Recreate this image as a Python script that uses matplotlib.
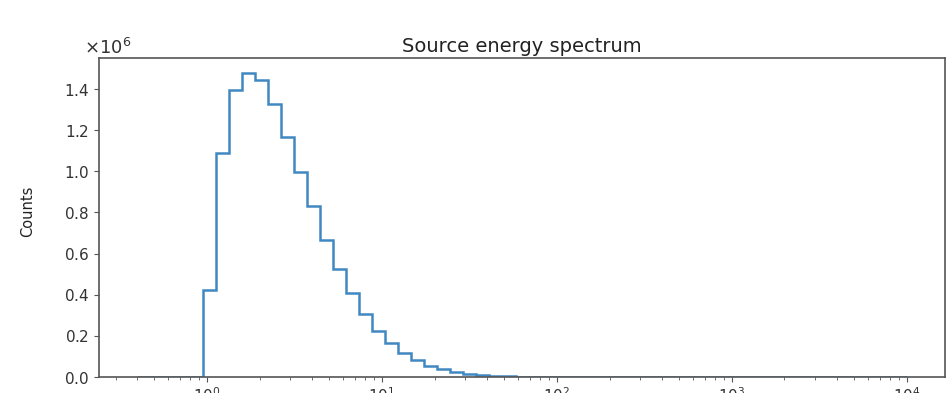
import numpy as np
from matplotlib import pyplot as plt

### log spaced energy bins, 59 bins from 0.4 to 1e4
bin_edges = np.logspace(np.log10(0.4), 4, 60)

### counts per bin (in units of 1e6)
counts_M = [0, 0, 0, 0, 0,
            0.423, 1.091, 1.393, 1.478, 1.442, 1.327, 1.166, 0.999, 0.829, 0.667,
            0.524, 0.407, 0.307, 0.225, 0.164, 0.115, 0.083, 0.054, 0.037, 0.024,
            0.015, 0.009, 0.005, 0.003, 0.002, 0.001]
counts_M = counts_M + [0] * (len(bin_edges) - 1 - len(counts_M))
counts = np.array(counts_M) * 1e6

fig = plt.figure(figsize=(9.48, 3.93), dpi=100)
ax = fig.add_axes([0.1044, 0.0407, 0.8926, 0.8123])

ax.stairs(counts, bin_edges, color='#2b7bba', linewidth=1.8, alpha=0.9)
ax.set_xscale('log')
ax.margins(x=0.05, y=0.05)
ax.set_ylim(0, None)
ax.ticklabel_format(axis='y', style='sci', scilimits=(0, 0), useMathText=True)
off = ax.yaxis.get_offset_text()
off.set_fontsize(13)
off.set_color('#333333')
off.set_x(-0.018)

ax.set_title("Source energy spectrum", fontsize=14, pad=4, color='#222222')
ax.set_ylabel("Counts", fontsize=10.5, color='#222222')
ax.yaxis.set_label_coords(-0.075, 0.52)
ax.tick_params(labelsize=11, labelcolor='#333333', color='#555555')
ax.tick_params(which='minor', color='#555555')

for s in ax.spines.values():
    s.set_color('#555555')
    s.set_linewidth(1.2)

fig.savefig("out.png", dpi=100)
